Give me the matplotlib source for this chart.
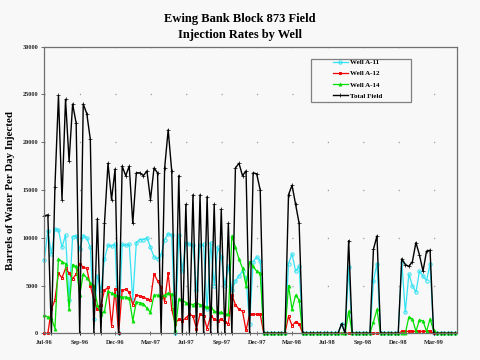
import matplotlib.pyplot as plt
import numpy as np

plt.rcParams['font.family'] = ['Liberation Serif', 'DejaVu Serif']

title_1 = 'Ewing Bank Block 873 Field'
title_2 = 'Injection Rates by Well'
y_label = 'Barrels of Water Per Day Injected'
tick_labels = ['Jul-96', 'Sep-96', 'Dec-96', 'Mar-97', 'Jul-97', 'Sep-97',
               'Dec-97', 'Mar-98', 'Jul-98', 'Sep-98', 'Dec-98', 'Mar-99']
samples_per_tick = 10  # readings between two date labels

# barrels of water per day
well_a11 = [7700, 10700, 8300, 10900, 10800, 9000, 10300, 3500, 10100, 10200,
            8800, 10200, 10000, 9000, 1500, 6000, 4500, 7800, 9200, 9100,
            9300, 0, 9300, 9200, 9300, 3500, 9500, 9800, 9800, 10000,
            9000, 8000, 7800, 8200, 9800, 10400, 10300, 0, 10300, 6500,
            9500, 9300, 9200, 4500, 9200, 9300, 2500, 9500, 5000, 9000,
            8000, 5000, 7000, 4500, 5500, 6000, 6500, 5800, 1000, 7500,
            8000, 7600, 0, 0, 0, 0, 0, 0, 0, 7300,
            8300, 6500, 7000, 0, 0, 0, 0, 0, 0, 0,
            0, 0, 0, 0, 1000, 0, 6900, 0, 0, 0,
            0, 0, 0, 5500, 7300, 0, 0, 0, 0, 0,
            0, 7500, 2200, 6200, 5000, 4300, 6500, 6000, 5500, 7300,
            0, 0, 0, 0, 0, 0, 0]

well_a12 = [0, 0, 2500, 3500, 6300, 5800, 6800, 6300, 5700, 6200,
            7300, 6900, 6800, 5000, 3500, 2500, 3000, 4500, 4800, 800,
            4600, 0, 4500, 4600, 4300, 3000, 4000, 3900, 3800, 3600,
            3500, 6200, 5500, 4800, 3300, 6300, 2500, 1000, 1500, 1300,
            1600, 2000, 1800, 500, 2000, 1800, 500, 1800, 1500, 1300,
            1500, 1200, 1000, 4000, 3000, 2500, 2300, 300, 2000, 2000,
            2000, 2000, 0, 0, 0, 0, 0, 0, 0, 1800,
            800, 1200, 1000, 0, 0, 0, 0, 0, 0, 0,
            0, 0, 0, 0, 0, 0, 0, 0, 0, 0,
            0, 0, 0, 0, 0, 0, 0, 0, 0, 0,
            0, 200, 200, 200, 200, 200, 200, 200, 200, 200,
            0, 0, 0, 0, 0, 0, 0]

well_a14 = [1900, 1700, 1600, 500, 7800, 7500, 7300, 2500, 7200, 7000,
            4000, 6200, 5800, 5300, 5000, 3000, 2000, 2300, 4400, 4200,
            4000, 3900, 3800, 3800, 3700, 1300, 3300, 3200, 3100, 2600,
            2200, 4000, 4000, 3800, 4000, 4200, 4100, 300, 3600, 3500,
            3200, 3100, 3000, 3200, 3000, 2900, 2700, 2800, 2300, 2200,
            2200, 2000, 2000, 10200, 9000, 7800, 6800, 5000, 7500, 7000,
            6500, 6300, 0, 0, 0, 0, 0, 0, 0, 5000,
            2500, 4000, 3500, 0, 0, 0, 0, 0, 0, 0,
            0, 0, 0, 0, 0, 0, 2300, 0, 0, 0,
            0, 0, 0, 1200, 2500, 0, 0, 0, 0, 0,
            0, 0, 0, 1700, 1500, 200, 1400, 1300, 200, 1500,
            300, 0, 0, 0, 0, 0, 0]

total_field = [12300, 12400, 0, 15300, 24900, 14000, 24500, 18000, 24000, 22000,
               0, 24000, 23000, 20300, 0, 12000, 0, 11500, 17800, 14000,
               17200, 0, 17500, 16500, 17500, 11500, 16800, 16800, 16500, 17000,
               14000, 17300, 16800, 0, 17300, 21300, 17000, 0, 16500, 0,
               13500, 0, 14500, 0, 14500, 0, 14300, 0, 13500, 0,
               13000, 0, 11500, 0, 17300, 17800, 16500, 17000, 0, 16800,
               16700, 15000, 0, 0, 0, 0, 0, 0, 0, 14500,
               15500, 13500, 11500, 0, 0, 0, 0, 0, 0, 0,
               0, 0, 0, 0, 1000, 0, 9700, 0, 0, 0,
               0, 0, 0, 8800, 10200, 0, 0, 0, 0, 0,
               0, 7800, 7200, 7000, 7500, 9500, 8200, 6500, 8600, 8700,
               0, 0, 0, 0, 0, 0, 0]

bg = '#f8f8f8'
fig = plt.figure(figsize=(4.8, 3.6), dpi=100, facecolor=bg)
ax = fig.add_axes([0.0923, 0.0742, 0.859, 0.796], facecolor=bg)

x = np.arange(len(total_field)) / samples_per_tick

ax.plot(x, well_a11, color='#33e3f3', lw=0.9, marker='o', ms=2.4,
        mfc='none', mew=0.7, label='Well A-11', clip_on=False)
ax.plot(x, well_a12, color='#f00000', lw=0.9, marker='s', ms=2.0,
        mfc='none', mew=0.7, label='Well A-12', clip_on=False)
ax.plot(x, well_a14, color='#00e000', lw=0.9, marker='^', ms=2.3,
        mew=0.4, label='Well A-14', clip_on=False)
ax.plot(x, total_field, color='black', lw=1.0, marker='+', ms=2.5,
        mew=0.5, label='Total Field', clip_on=False)

ax.set_xlim(0, 11.65)
ax.set_ylim(0, 30000)
ax.set_xticks(np.arange(len(tick_labels)))
ax.set_xticklabels(tick_labels)
ax.set_yticks(np.arange(0, 30001, 5000))

for s in ax.spines.values():
    s.set_color('#707070')
    s.set_linewidth(0.9)

ax.yaxis.grid(True, color='#9a9a9a', linestyle=(0, (0.8, 24.7)), linewidth=1)
ax.set_axisbelow(True)

ax.tick_params(axis='y', length=2, width=0.6, color='#555555', labelsize=4.5, pad=2.5)
ax.tick_params(axis='x', direction='inout', length=3, width=0.6, color='#555555',
               labelsize=4.5, pad=3)
for lab in ax.get_xticklabels() + ax.get_yticklabels():
    lab.set_fontweight('bold')
    lab.set_color('#222222')

fig.text(0.5, 1 - 19.3 / 360, title_1, ha='center', va='center', fontsize=9, weight='bold')
fig.text(0.5, 1 - 34.7 / 360, title_2, ha='center', va='center', fontsize=9, weight='bold')
fig.text(11 / 480, 1 - 190 / 360, y_label, rotation=90, ha='center', va='center',
         fontsize=7.8, weight='bold')

# legend box drawn by hand, entries placed inside it
ax.add_patch(plt.Rectangle((311 / 480, 1 - 101.7 / 360), 99.7 / 480, 42.4 / 360,
                           transform=fig.transFigure, facecolor=bg,
                           edgecolor='#808080', lw=0.9, zorder=5, clip_on=False))
leg = ax.legend(loc='upper left', bbox_to_anchor=(333 / 480, 1 - 59.5 / 360),
                bbox_transform=fig.transFigure, frameon=False, borderpad=0,
                borderaxespad=0, handlelength=2.1, handletextpad=0.3,
                labelspacing=0.75, prop={'size': 5, 'weight': 'bold'})
leg.set_zorder(6)

fig.savefig('out.png', dpi=100, facecolor=bg)
